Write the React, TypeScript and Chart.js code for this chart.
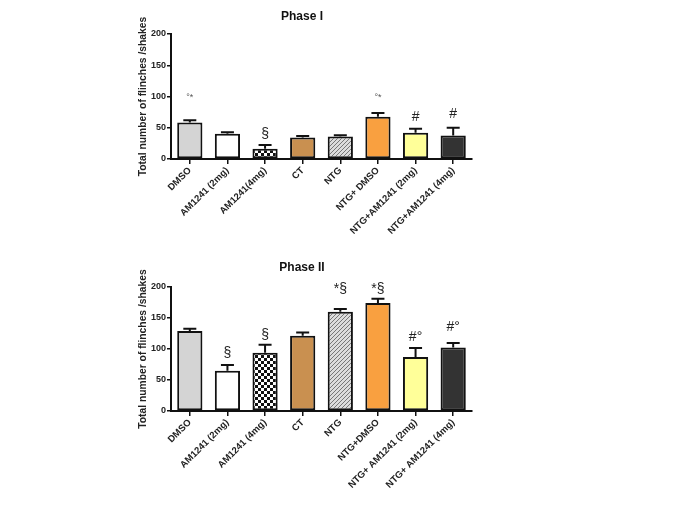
import React, { useEffect, useRef } from "react";
import { Chart, registerables } from "chart.js";
Chart.register(...registerables);

const categoriesI = ["DMSO", "AM1241 (2mg)", "AM1241(4mg)", "CT", "NTG", "NTG+ DMSO", "NTG+AM1241 (2mg)", "NTG+AM1241 (4mg)"];
const meansI = [58.5, 40.5, 16.5, 34.5, 36, 67.5, 42, 37.5];
const errorsI = [3.5, 2.5, 6, 2.5, 2, 6, 6.5, 12.5];
const marksI = ["°*", "", "§", "", "", "°*", "#", "#"];
const markValsI = [99, 0, 40, 0, 0, 99, 67, 71];

const categoriesII = ["DMSO", "AM1241 (2mg)", "AM1241 (4mg)", "CT", "NTG", "NTG+DMSO", "NTG+ AM1241 (2mg)", "NTG+ AM1241 (4mg)"];
const meansII = [129, 65, 94, 121.5, 160, 174, 87, 102.5];
const errorsII = [3.5, 9, 13, 5, 4.5, 7, 14.5, 7];
const marksII = ["", "§", "§", "", "*§", "*§", "#°", "#°"];
const markValsII = [0, 93, 123, 0, 196, 196, 119, 136];

const yMin = 0;
const yMax = 200;
const yStep = 50;

const FONT = "'Liberation Sans', Arial, sans-serif";

function makeChecker(): CanvasPattern | string {
  const c = document.createElement("canvas");
  c.width = 6; c.height = 6;
  const g = c.getContext("2d")!;
  g.fillStyle = "#ffffff"; g.fillRect(0, 0, 6, 6);
  g.fillStyle = "#111111";
  g.fillRect(0, 0, 3, 3); g.fillRect(3, 3, 3, 3);
  return g.createPattern(c, "repeat") || "#777";
}

function makeHatch(): CanvasPattern | string {
  const c = document.createElement("canvas");
  c.width = 4; c.height = 4;
  const g = c.getContext("2d")!;
  g.fillStyle = "#dcdcdc"; g.fillRect(0, 0, 4, 4);
  g.strokeStyle = "#777777"; g.lineWidth = 1;
  g.beginPath();
  g.moveTo(0, 4); g.lineTo(4, 0);
  g.moveTo(-1, 1); g.lineTo(1, -1);
  g.moveTo(3, 5); g.lineTo(5, 3);
  g.stroke();
  return g.createPattern(c, "repeat") || "#bbb";
}

const errPlugin = {
  id: "errmarks",
  afterDatasetsDraw(chart: any, _args: any, opts: any) {
    const { ctx } = chart;
    const meta = chart.getDatasetMeta(0);
    const y = chart.scales.y;
    ctx.save();
    ctx.strokeStyle = "#111";
    ctx.lineWidth = 2;
    meta.data.forEach((bar: any, i: number) => {
      const base = y.getPixelForValue(opts.means[i]);
      const top = y.getPixelForValue(opts.means[i] + opts.errors[i]);
      ctx.beginPath();
      ctx.moveTo(bar.x, base);
      ctx.lineTo(bar.x, top);
      ctx.moveTo(bar.x - 6.5, top);
      ctx.lineTo(bar.x + 6.5, top);
      ctx.stroke();
      const m = opts.marks[i];
      if (m) {
        const small = m.indexOf("°*") >= 0;
        ctx.fillStyle = small ? "#555" : "#222";
        ctx.font = (small ? "9px " : "14px ") + FONT;
        ctx.textAlign = "center";
        ctx.textBaseline = "middle";
        ctx.fillText(m, bar.x, y.getPixelForValue(opts.markVals[i]));
      }
    });
    ctx.restore();
  },
};

function makeConfig(title: string, cats: string[], means: number[], errors: number[], marks: string[], markVals: number[], titlePadTop: number, titlePadBottom: number, xHeight: number): any {
  const fills = ["#d4d4d4", "#ffffff", makeChecker(), "#c99050", makeHatch(), "#f9a040", "#ffff99", "#333333"];
  return {
    type: "bar",
    data: {
      labels: cats,
      datasets: [{
        data: means,
        backgroundColor: fills,
        borderColor: "#111",
        borderWidth: 2,
        borderSkipped: false,
        categoryPercentage: 1,
        barPercentage: 0.67,
      }],
    },
    options: {
      responsive: false,
      animation: false,
      layout: { padding: { left: 132, right: 213, top: 0, bottom: 0 } },
      plugins: {
        legend: { display: false },
        tooltip: { enabled: false },
        title: {
          display: true,
          text: title,
          color: "#111",
          font: { family: FONT, size: 12, weight: "bold" },
          padding: { top: titlePadTop, bottom: titlePadBottom },
        },
        errmarks: { means, errors, marks, markVals },
      },
      scales: {
        x: {
          afterFit: (s: any) => { s.height = xHeight; },
          grid: { display: true, drawOnChartArea: false, offset: false, drawTicks: true, tickLength: 5, color: "#111", lineWidth: 1.5 },
          border: { display: true, color: "#111", width: 2 },
          ticks: {
            autoSkip: false,
            maxRotation: 45,
            minRotation: 45,
            padding: 1,
            color: "#222",
            font: { family: FONT, size: 9.5, weight: "bold" },
          },
        },
        y: {
          min: yMin,
          max: yMax,
          afterFit: (s: any) => { s.width = 39; },
          grid: { display: true, drawOnChartArea: false, drawTicks: true, tickLength: 4, color: "#111", lineWidth: 1.5 },
          border: { display: true, color: "#111", width: 2 },
          ticks: {
            stepSize: yStep,
            padding: 1,
            color: "#222",
            font: { family: FONT, size: 9, weight: "bold" },
          },
          title: {
            display: true,
            text: "Total number of flinches /shakes",
            color: "#222",
            font: { family: FONT, size: 10.3, weight: "bold" },
            padding: { top: 5, bottom: 0 },
          },
        },
      },
    },
    plugins: [errPlugin],
  };
}

export default function App() {
  const ref1 = useRef<HTMLCanvasElement>(null);
  const ref2 = useRef<HTMLCanvasElement>(null);
  useEffect(() => {
    const c1 = new Chart(ref1.current!, makeConfig("Phase I", categoriesI, meansI, errorsI, marksI, markValsI, 9, 10.6, 91));
    const c2 = new Chart(ref2.current!, makeConfig("Phase II", categoriesII, meansII, errorsII, marksII, markValsII, 10.8, 11.8, 103));
    return () => { c1.destroy(); c2.destroy(); };
  }, []);
  return (
    <div style={{ position: "absolute", left: 0, top: 0, width: 685, height: 514, background: "#fff" }}>
      <canvas ref={ref1} width={685} height={250} style={{ position: "absolute", left: 0, top: 0 }} />
      <canvas ref={ref2} width={685} height={264} style={{ position: "absolute", left: 0, top: 250 }} />
    </div>
  );
}
